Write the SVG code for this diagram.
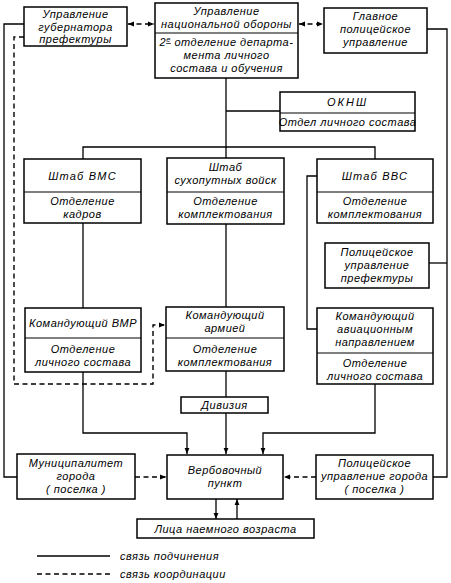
<svg xmlns="http://www.w3.org/2000/svg" width="451" height="583" viewBox="0 0 451 583">
<style>
.box{fill:#fff;stroke:#000;stroke-width:1.5}
.div{stroke:#000;stroke-width:1.2}
.ln{fill:none;stroke:#000;stroke-width:1.3}
.ds{fill:none;stroke:#000;stroke-width:1.4;stroke-dasharray:5,3.5}
text{font-family:"Liberation Sans",Arial,sans-serif;font-style:italic;font-size:11px;letter-spacing:0.5px;text-anchor:middle;fill:#000}
.lg{text-anchor:start}
</style>
<defs>
<marker id="arr" viewBox="0 0 10 10" refX="10" refY="5" markerWidth="7" markerHeight="6" orient="auto-start-reverse" markerUnits="userSpaceOnUse">
<path d="M0,1 L10,5 L0,9 z" fill="#000"/>
</marker>
</defs>
<rect width="451" height="583" fill="#fff"/>

<g id="connectors">
<line class="ds" x1="128" y1="24" x2="154" y2="24" marker-start="url(#arr)" marker-end="url(#arr)"/>
<line class="ds" x1="299" y1="24" x2="323" y2="24" marker-start="url(#arr)" marker-end="url(#arr)"/>
<path class="ln" d="M226,78 V158"/>
<path class="ln" d="M226,111 H280"/>
<path class="ln" d="M83,159 V147 H375 V159"/>
<path class="ln" d="M83,223 V308"/>
<path class="ln" d="M83,372 V433 H187 V454" marker-end="url(#arr)"/>
<path class="ln" d="M226,224 V307"/>
<path class="ln" d="M226,371 V397"/>
<path class="ln" d="M226,413 V454" marker-end="url(#arr)"/>
<path class="ln" d="M317,176 H307 V329 H317"/>
<path class="ln" d="M375,384 V433 H263 V454" marker-end="url(#arr)"/>
<path class="ln" d="M427,29 H447 V477 H433"/>
<path class="ln" d="M429,263 H447"/>
<path class="ln" d="M24,24 H4 V477 H17"/>
<path class="ds" d="M24,37 H14 V384 H153 V325 H165" marker-end="url(#arr)"/>
<line class="ds" x1="135" y1="477" x2="166" y2="477" marker-end="url(#arr)"/>
<line class="ds" x1="316" y1="477" x2="284" y2="477" marker-end="url(#arr)"/>
<line class="ln" x1="216" y1="499" x2="216" y2="519" marker-end="url(#arr)"/>
<line class="ln" x1="237" y1="519" x2="237" y2="499" marker-end="url(#arr)"/>
</g>

<g id="n-governor">
<rect class="box" x="24" y="7" width="103" height="39"/>
<text x="75.5" y="18">Управление</text>
<text x="75.5" y="30.5">губернатора</text>
<text x="75.5" y="43">префектуры</text>
</g>

<g id="n-defense">
<rect class="box" x="155" y="3" width="143" height="75"/>
<line class="div" x1="155" y1="33" x2="298" y2="33"/>
<text x="226.5" y="15">Управление</text>
<text x="226.5" y="28">национальной обороны</text>
<text x="226.5" y="46">2<tspan font-size="7.5" dy="-4" text-decoration="underline">е</tspan><tspan dy="4"> отделение департа-</tspan></text>
<text x="226.5" y="59">мента личного</text>
<text x="226.5" y="72">состава и обучения</text>
</g>

<g id="n-mainpolice">
<rect class="box" x="324" y="8" width="103" height="45"/>
<text x="375.5" y="20">Главное</text>
<text x="375.5" y="33">полицейское</text>
<text x="375.5" y="46">управление</text>
</g>

<g id="n-oknsh">
<rect class="box" x="280" y="92" width="135" height="39"/>
<line class="div" x1="280" y1="113" x2="415" y2="113"/>
<text x="347.5" y="106" style="letter-spacing:2px">ОКНШ</text>
<text x="347.5" y="126">Отдел личного состава</text>
</g>

<g id="n-navy">
<rect class="box" x="24" y="159" width="117" height="64"/>
<line class="div" x1="24" y1="192" x2="141" y2="192"/>
<text x="82.5" y="180" style="letter-spacing:1.2px">Штаб ВМС</text>
<text x="82.5" y="205">Отделение</text>
<text x="82.5" y="218">кадров</text>
</g>

<g id="n-ground">
<rect class="box" x="167" y="158" width="117" height="66"/>
<line class="div" x1="167" y1="192" x2="284" y2="192"/>
<text x="225.5" y="171">Штаб</text>
<text x="225.5" y="184">сухопутных войск</text>
<text x="225.5" y="205">Отделение</text>
<text x="225.5" y="218">комплектования</text>
</g>

<g id="n-air">
<rect class="box" x="317" y="159" width="116" height="64"/>
<line class="div" x1="317" y1="192" x2="433" y2="192"/>
<text x="375" y="180" style="letter-spacing:1.2px">Штаб ВВС</text>
<text x="375" y="205">Отделение</text>
<text x="375" y="218">комплектования</text>
</g>

<g id="n-prefpolice">
<rect class="box" x="325" y="243" width="104" height="45"/>
<text x="377" y="256">Полицейское</text>
<text x="377" y="269">управление</text>
<text x="377" y="282">префектуры</text>
</g>

<g id="n-navycmd">
<rect class="box" x="25" y="308" width="116" height="64"/>
<line class="div" x1="25" y1="338" x2="141" y2="338"/>
<text x="83" y="327">Командующий ВМР</text>
<text x="83" y="353">Отделение</text>
<text x="83" y="366">личного состава</text>
</g>

<g id="n-army">
<rect class="box" x="166" y="307" width="118" height="64"/>
<line class="div" x1="166" y1="338" x2="284" y2="338"/>
<text x="225" y="319">Командующий</text>
<text x="225" y="332">армией</text>
<text x="225" y="353">Отделение</text>
<text x="225" y="366">комплектования</text>
</g>

<g id="n-aircmd">
<rect class="box" x="317" y="308" width="116" height="76"/>
<line class="div" x1="317" y1="353" x2="433" y2="353"/>
<text x="375" y="320">Командующий</text>
<text x="375" y="333">авиационным</text>
<text x="375" y="346">направлением</text>
<text x="375" y="367">Отделение</text>
<text x="375" y="380">личного состава</text>
</g>

<g id="n-division">
<rect class="box" x="181" y="397" width="87" height="16"/>
<text x="224.5" y="409">Дивизия</text>
</g>

<g id="n-municipality">
<rect class="box" x="17" y="454" width="118" height="45"/>
<text x="76" y="467">Муниципалитет</text>
<text x="76" y="480">города</text>
<text x="76" y="493">( поселка )</text>
</g>

<g id="n-recruit">
<rect class="box" x="167" y="455" width="116" height="44"/>
<text x="225" y="474">Вербовочный</text>
<text x="225" y="487">пункт</text>
</g>

<g id="n-citypolice">
<rect class="box" x="316" y="455" width="117" height="44"/>
<text x="374.5" y="467">Полицейское</text>
<text x="374.5" y="480">управление города</text>
<text x="374.5" y="493">( поселка )</text>
</g>

<g id="n-persons">
<rect class="box" x="137" y="519" width="177" height="19"/>
<text x="225.5" y="533">Лица наемного возраста</text>
</g>

<g id="legend">
<line class="ln" x1="37" y1="556" x2="110" y2="556"/>
<line class="ds" x1="37" y1="574" x2="110" y2="574"/>
<text class="lg" x="120" y="560">связь подчинения</text>
<text class="lg" x="120" y="578">связь координации</text>
</g>
</svg>
